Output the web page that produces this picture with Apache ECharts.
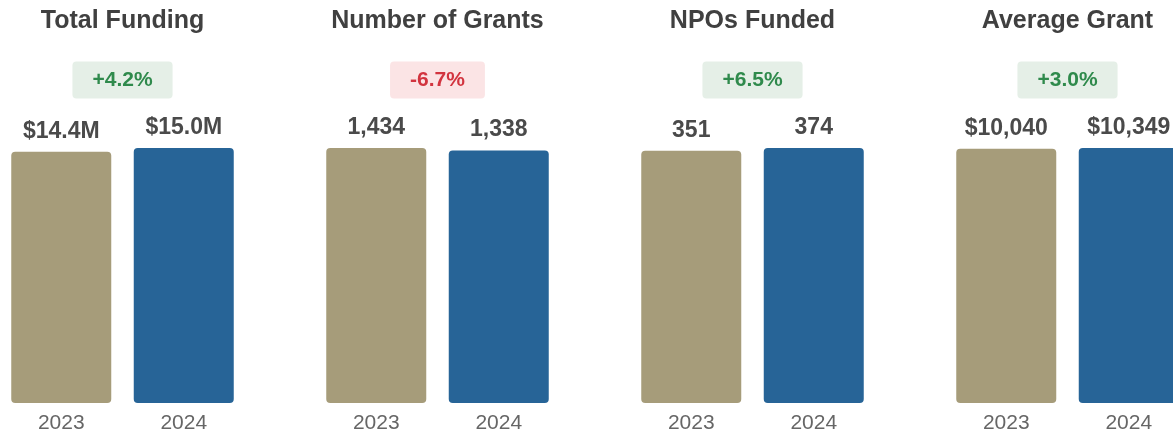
<!DOCTYPE html>
<html lang="en">
<head>
  <meta charset="utf-8"/>
  <title>Funding comparison</title>
  <script src="https://cdn.jsdelivr.net/npm/echarts@6/dist/echarts.min.js"></script>
  <style>
    html, body { margin: 0; padding: 0; background: #fff; }
    #main { width: 1173px; height: 439px; }
  </style>
</head>
<body>
<div id="main"></div>
<script type="text/javascript">
  // data
  var years = ['2023', '2024'];
  var titles = ['Total Funding', 'Number of Grants', 'NPOs Funded', 'Average Grant'];
  var totalFunding = [14.4, 15.0];      // $ millions
  var numberOfGrants = [1434, 1338];
  var nposFunded = [351, 374];
  var averageGrant = [10040, 10349];    // $
  var changes = [4.2, -6.7, 6.5, 3.0];  // % change 2023 -> 2024

  var panels = [totalFunding, numberOfGrants, nposFunded, averageGrant];
  var formats = [
    function (v) { return '$' + v.toFixed(1) + 'M'; },
    function (v) { return v.toLocaleString('en-US'); },
    function (v) { return v.toLocaleString('en-US'); },
    function (v) { return '$' + v.toLocaleString('en-US'); }
  ];

  var barColors = ['#A69C7A', '#276497'];
  var font = '"Liberation Sans", Arial, sans-serif';
  var W = 1173, panelStep = 315, gridWidth = 245;

  var myChart = echarts.init(document.getElementById('main'));

  var grids = [], xAxes = [], yAxes = [], series = [], graphics = [];
  panels.forEach(function (vals, i) {
    var left = i * panelStep;
    var center = left + gridWidth / 2;
    // last panel runs off the right edge, like the original
    grids.push({
      left: left, right: W - left - gridWidth, top: 148, bottom: 36,
      outerBoundsMode: 'none', containLabel: false
    });
    xAxes.push({
      type: 'category', gridIndex: i, data: years,
      axisLine: { show: false }, axisTick: { show: false },
      axisLabel: { color: '#666', fontSize: 21, fontFamily: font, margin: 10 }
    });
    yAxes.push({
      type: 'log', gridIndex: i, min: 1, max: Math.max.apply(null, vals),
      show: false, splitLine: { show: false }
    });
    series.push({
      type: 'bar', xAxisIndex: i, yAxisIndex: i, barWidth: 100,
      data: vals.map(function (v, j) {
        return { value: v, itemStyle: { color: barColors[j] } };
      }),
      itemStyle: { borderRadius: 4 },
      label: {
        show: true, position: 'top', distance: 9,
        fontSize: 23, fontWeight: 'bold', color: '#4a4a4a', fontFamily: font,
        formatter: (function (f) { return function (p) { return f(p.value); }; })(formats[i])
      },
      silent: true
    });
    var up = changes[i] >= 0;
    graphics.push({
      type: 'text', x: center, y: 21,
      style: {
        text: titles[i], align: 'center', verticalAlign: 'middle',
        fill: '#404040', font: 'bold 25px ' + font
      }
    });
    graphics.push({
      type: 'text', x: center, y: 80,
      style: {
        text: (up ? '+' : '') + changes[i].toFixed(1) + '%',
        align: 'center', verticalAlign: 'middle',
        fill: up ? '#2f8a4c' : '#d2343f', font: 'bold 21px ' + font,
        backgroundColor: up ? '#e5efe7' : '#fbe4e5',
        padding: [8, 20, 8, 20], borderRadius: 4
      }
    });
  });

  myChart.setOption({
    animation: false,
    grid: grids,
    xAxis: xAxes,
    yAxis: yAxes,
    series: series,
    graphic: graphics
  });
</script>
</body>
</html>
